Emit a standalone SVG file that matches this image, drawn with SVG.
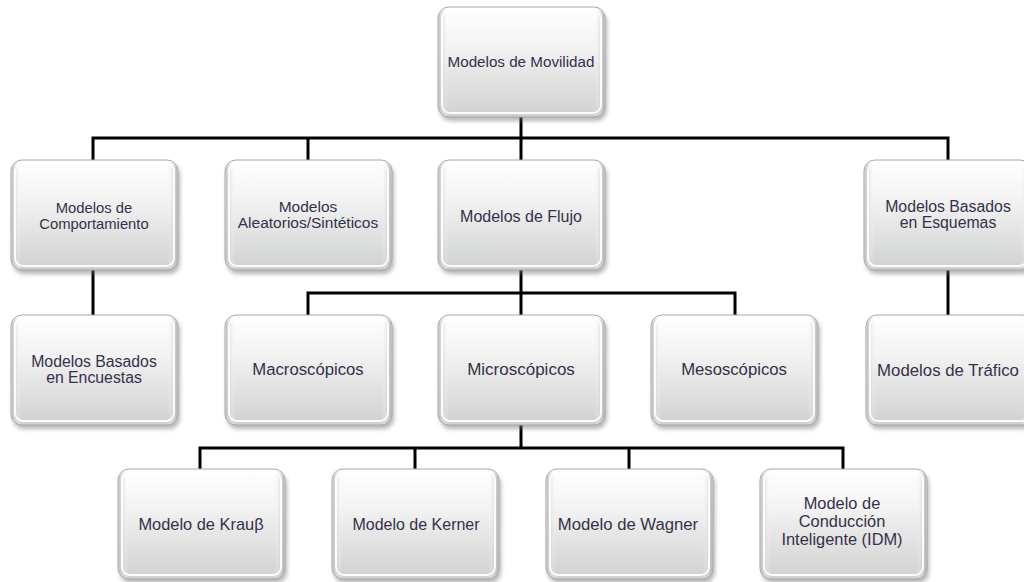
<svg xmlns="http://www.w3.org/2000/svg" width="1024" height="582" viewBox="0 0 1024 582">
<defs>
<linearGradient id="fillg" x1="0" y1="0" x2="0" y2="1">
<stop offset="0" stop-color="#ffffff"/>
<stop offset="0.35" stop-color="#f3f3f3"/>
<stop offset="1" stop-color="#cfd0d1"/>
</linearGradient>
<linearGradient id="edgeg" x1="0" y1="0" x2="1" y2="0">
<stop offset="0" stop-color="#bdbdbd"/>
<stop offset="0.06" stop-color="#ffffff" stop-opacity="0"/>
<stop offset="0.94" stop-color="#ffffff" stop-opacity="0"/>
<stop offset="1" stop-color="#b0b0b0"/>
</linearGradient>
<filter id="sh" x="-10%" y="-10%" width="125%" height="130%">
<feGaussianBlur stdDeviation="2"/>
</filter>
<symbol id="box" viewBox="0 0 167 110" overflow="visible">
<rect x="2" y="4" width="167" height="110" rx="11" fill="#6e6e6e" opacity="0.5" filter="url(#sh)"/>
<rect x="0" y="0" width="167" height="110" rx="11" fill="url(#fillg)" stroke="#a8a8a8" stroke-width="1"/>
<rect x="0.5" y="0.5" width="166" height="109" rx="10.5" fill="url(#edgeg)"/>
<rect x="4" y="3" width="159" height="103" rx="8" fill="none" stroke="#ffffff" stroke-width="2" opacity="0.9"/>
</symbol>
</defs>
<style>
.lbl{font-family:"Liberation Sans",Arial,sans-serif;font-size:16px;fill:#35314a;text-anchor:middle}
.conn{fill:none;stroke:#000;stroke-width:3}
</style>
<rect width="1024" height="582" fill="#ffffff"/>
<g id="connectors" class="conn">
<path d="M521 115V138M93 160V138H948V160M308 138V160M521 138V160"/>
<path d="M93 270V315"/>
<path d="M948 270V315"/>
<path d="M521 270V293M308 315V293H735V315M521 293V315"/>
<path d="M521 425V448M200 470V448H843V470M415 448V470M629 448V470"/>
</g>
<g id="n-root"><use href="#box" x="438" y="7" width="167" height="110"/><text class="lbl" x="521" y="67" style="font-size:15.2px">Modelos de Movilidad</text></g>
<g id="n-comp"><use href="#box" x="11" y="160" width="167" height="110"/><text class="lbl" x="94" y="213" style="font-size:14.8px">Modelos de</text><text class="lbl" x="94" y="229" style="font-size:14.8px">Comportamiento</text></g>
<g id="n-alea"><use href="#box" x="225" y="160" width="167" height="110"/><text class="lbl" x="308" y="212" style="font-size:15.5px">Modelos</text><text class="lbl" x="308" y="228" style="font-size:15.5px">Aleatorios/Sintéticos</text></g>
<g id="n-flujo"><use href="#box" x="438" y="160" width="167" height="110"/><text class="lbl" x="521" y="222">Modelos de Flujo</text></g>
<g id="n-esq"><use href="#box" x="864" y="160" width="167" height="110"/><text class="lbl" x="948" y="212" style="font-size:15.8px">Modelos Basados</text><text class="lbl" x="948" y="228" style="font-size:15.8px">en Esquemas</text></g>
<g id="n-encu"><use href="#box" x="11" y="315" width="167" height="110"/><text class="lbl" x="94" y="367" style="font-size:15.8px">Modelos Basados</text><text class="lbl" x="94" y="383" style="font-size:15.8px">en Encuestas</text></g>
<g id="n-macro"><use href="#box" x="225" y="315" width="167" height="110"/><text class="lbl" x="308" y="375" style="font-size:16.7px">Macroscópicos</text></g>
<g id="n-micro"><use href="#box" x="438" y="315" width="167" height="110"/><text class="lbl" x="521" y="375" style="font-size:17px">Microscópicos</text></g>
<g id="n-meso"><use href="#box" x="651" y="315" width="167" height="110"/><text class="lbl" x="734" y="375" style="font-size:16.7px">Mesoscópicos</text></g>
<g id="n-traf"><use href="#box" x="866" y="315" width="167" height="110"/><text class="lbl" x="948" y="376" style="font-size:16.8px">Modelos de Tráfico</text></g>
<g id="n-krauss"><use href="#box" x="118" y="469" width="167" height="110"/><text class="lbl" x="201" y="530" style="font-size:16.4px">Modelo de Krauβ</text></g>
<g id="n-kerner"><use href="#box" x="332" y="469" width="167" height="110"/><text class="lbl" x="416" y="530">Modelo de Kerner</text></g>
<g id="n-wagner"><use href="#box" x="546" y="469" width="167" height="110"/><text class="lbl" x="628" y="530" style="font-size:16.7px">Modelo de Wagner</text></g>
<g id="n-idm"><use href="#box" x="760" y="469" width="167" height="110"/><text class="lbl" x="842" y="509" style="font-size:16.4px">Modelo de</text><text class="lbl" x="842" y="527" style="font-size:16.4px">Conducción</text><text class="lbl" x="842" y="545" style="font-size:16.4px">Inteligente (IDM)</text></g>
</svg>
